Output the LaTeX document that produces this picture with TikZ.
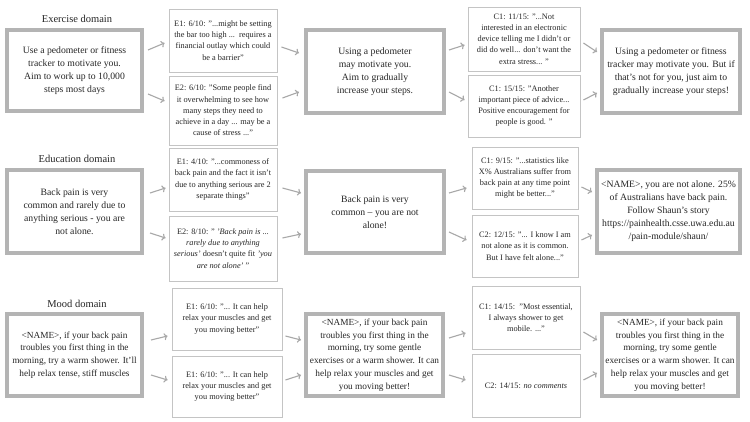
\documentclass[tikz,border=0pt]{standalone}
\usepackage{fontspec}
\setmainfont{Liberation Serif}
\usetikzlibrary{arrows.meta,calc}
\definecolor{bigb}{HTML}{B4B4B4}
\definecolor{smb}{HTML}{C4C4C4}
\definecolor{arrc}{HTML}{A8A8A8}
\definecolor{txt}{HTML}{262626}
\newcommand\myconn[6]{\draw[arr] ($(#1.east |- 0,#3)+(#2,0)$) -- ($(#4.west |- 0,#6)+(-#5,0)$);}
\begin{document}
\begin{tikzpicture}[x=1pt,y=-1pt,
 bigbox/.style={draw=bigb, line width=4pt, fill=white, align=center, text=txt, font=\fontsize{9.7}{13}\selectfont, inner sep=0pt},
 bigboxsm/.style={bigbox, font=\fontsize{9.3}{12.7}\selectfont},
 smallbox/.style={draw=smb, line width=0.9pt, fill=white, align=center, text=txt, font=\fontsize{8.3}{11.2}\selectfont, inner sep=0pt},
 title/.style={text=txt, font=\fontsize{10.5}{12}\selectfont, inner sep=0pt},
 arr/.style={draw=arrc, line width=1.1pt, -{To[length=3.5pt,width=7pt]}}]
\useasboundingbox[fill=white] (0,0) rectangle (750,422);

% ---------- Row 1: Exercise ----------
\node[title] (t1) at (77,19) {Exercise domain};
\node[bigbox, minimum width=135pt, minimum height=81pt] (b1) at (74.5,70.5)
 {Use a pedometer or fitness\\ tracker to motivate you.\\ Aim to work up to 10,000\\ steps most days};
\node[smallbox, minimum width=108pt, minimum height=63pt] (e1a) at (223,40.5)
 {E1: 6/10: "...might be setting\\ the bar too high ...\ \ requires a\\ financial outlay which could\\ be a barrier"};
\node[smallbox, minimum width=108pt, minimum height=69pt] (e1b) at (223,110.5)
 {E2: 6/10: "Some people find\\ it overwhelming to see how\\ many steps they need to\\ achieve in a day ... may be a\\ cause of stress ..."};
\node[bigbox, minimum width=138pt, minimum height=83pt] (m1) at (375,71.5)
 {Using a pedometer\\ may motivate you.\\ Aim to gradually\\ increase your steps.};
\node[smallbox, minimum width=112pt, minimum height=64pt] (c1a) at (524,39)
 {C1: 11/15: "...Not\\ interested in an electronic\\ device telling me I didn't or\\ did do well... don't want the\\ extra stress... "};
\node[smallbox, minimum width=112pt, minimum height=62pt] (c1b) at (524,106)
 {C1: 15/15: "Another\\ important piece of advice...\\ Positive encouragement for\\ people is good. "};
\node[bigbox, minimum width=138pt, minimum height=83pt] (f1) at (671,71.5)
 {Using a pedometer or fitness\\ tracker may motivate you. But if\\ that's not for you, just aim to\\ gradually increase your steps!};

\myconn{b1}{4}{50}{e1a}{4}{43}
\myconn{b1}{4}{94}{e1b}{4}{101}
\myconn{e1a}{4}{47}{m1}{5}{53}
\myconn{e1b}{5}{98}{m1}{5}{92}
\myconn{m1}{3}{50}{c1a}{3}{45}
\myconn{m1}{3}{92}{c1b}{3}{100}
\myconn{c1a}{3}{43}{f1}{3}{52}
\myconn{c1b}{3}{100}{f1}{3}{93}

% ---------- Row 2: Education ----------
\node[title] (t2) at (77,159) {Education domain};
\node[bigbox, minimum width=135pt, minimum height=83pt] (b2) at (74.5,211.5)
 {Back pain is very\\ common and rarely due to\\ anything serious - you are\\ not alone.};
\node[smallbox, minimum width=108pt, minimum height=63pt] (e2a) at (223,179.5)
 {E1: 4/10: "...commoness of\\ back pain and the fact it isn't\\ due to anything serious are 2\\ separate things"};
\node[smallbox, minimum width=108pt, minimum height=65pt] (e2b) at (223,248.5)
 {E2: 8/10: " \textit{'Back pain is ...}\\ \textit{rarely due to anything}\\ \textit{serious'} doesn't quite fit \textit{'you}\\ \textit{are not alone'} "};
\node[bigbox, minimum width=138pt, minimum height=82pt] (m2) at (375,212)
 {Back pain is very\\ common -- you are not\\ alone!};
\node[smallbox, minimum width=106pt, minimum height=62pt] (c2a) at (525,178)
 {C1: 9/15: "...statistics like\\ X\% Australians suffer from\\ back pain at any time point\\ might be better..."};
\node[smallbox, minimum width=106pt, minimum height=62pt] (c2b) at (525,246)
 {C2: 12/15: "... I know I am\\ not alone as it is common.\\ But I have felt alone..."};
\node[bigbox, minimum width=143pt, minimum height=83pt] (f2) at (668.5,211.5)
 {<NAME>, you are not alone. 25\%\\ of Australians have back pain.\\ Follow Shaun's story\\ https://painhealth.csse.uwa.edu.au\\ /pain-module/shaun/};

\myconn{b2}{6}{193}{e2a}{3}{188}
\myconn{b2}{6}{233}{e2b}{3}{238}
\myconn{e2a}{5}{188}{m2}{3}{193}
\myconn{e2b}{5}{238}{m2}{3}{234}
\myconn{m2}{3}{193}{c2a}{5}{188}
\myconn{m2}{3}{232}{c2b}{5}{240}
\myconn{c2a}{3}{187}{f2}{3}{192}
\myconn{c2b}{3}{240}{f2}{3}{235}

% ---------- Row 3: Mood ----------
\node[title] (t3) at (77,304) {Mood domain};
\node[bigboxsm, minimum width=135pt, minimum height=82pt] (b3) at (74.5,355)
 {<NAME>, if your back pain\\ troubles you first thing in the\\ morning, try a warm shower. It'll\\ help relax tense, stiff muscles};
\node[smallbox, minimum width=110pt, minimum height=62pt] (e3a) at (227,319)
 {E1: 6/10: "... It can help\\ relax your muscles and get\\ you moving better"};
\node[smallbox, minimum width=110pt, minimum height=61pt] (e3b) at (227,386.5)
 {E1: 6/10: "... It can help\\ relax your muscles and get\\ you moving better"};
\node[bigboxsm, minimum width=137pt, minimum height=82pt] (m3) at (374.5,355)
 {<NAME>, if your back pain\\ troubles you first thing in the\\ morning, try some gentle\\ exercises or a warm shower. It can\\ help relax your muscles and get\\ you moving better!};
\node[smallbox, minimum width=108pt, minimum height=63pt] (c3a) at (526,317.5)
 {C1: 14/15:\ \ "Most essential,\\ I always shower to get\\ mobile. ..."};
\node[smallbox, minimum width=108pt, minimum height=63pt] (c3b) at (526,385.5)
 {C2: 14/15: \textit{no comments}};
\node[bigboxsm, minimum width=136pt, minimum height=82pt] (f3) at (670,355)
 {<NAME>, if your back pain\\ troubles you first thing in the\\ morning, try some gentle\\ exercises or a warm shower. It can\\ help relax your muscles and get\\ you moving better!};

\myconn{b3}{7}{340}{e3a}{4}{336}
\myconn{b3}{7}{375}{e3b}{4}{380}
\myconn{e3a}{3}{336}{m3}{3}{340}
\myconn{e3b}{3}{380}{m3}{3}{375}
\myconn{m3}{4}{338}{c3a}{6}{333}
\myconn{m3}{4}{375}{c3b}{6}{380}
\myconn{c3a}{3}{332}{f3}{3}{340}
\myconn{c3b}{3}{380}{f3}{3}{373}
\end{tikzpicture}
\end{document}
